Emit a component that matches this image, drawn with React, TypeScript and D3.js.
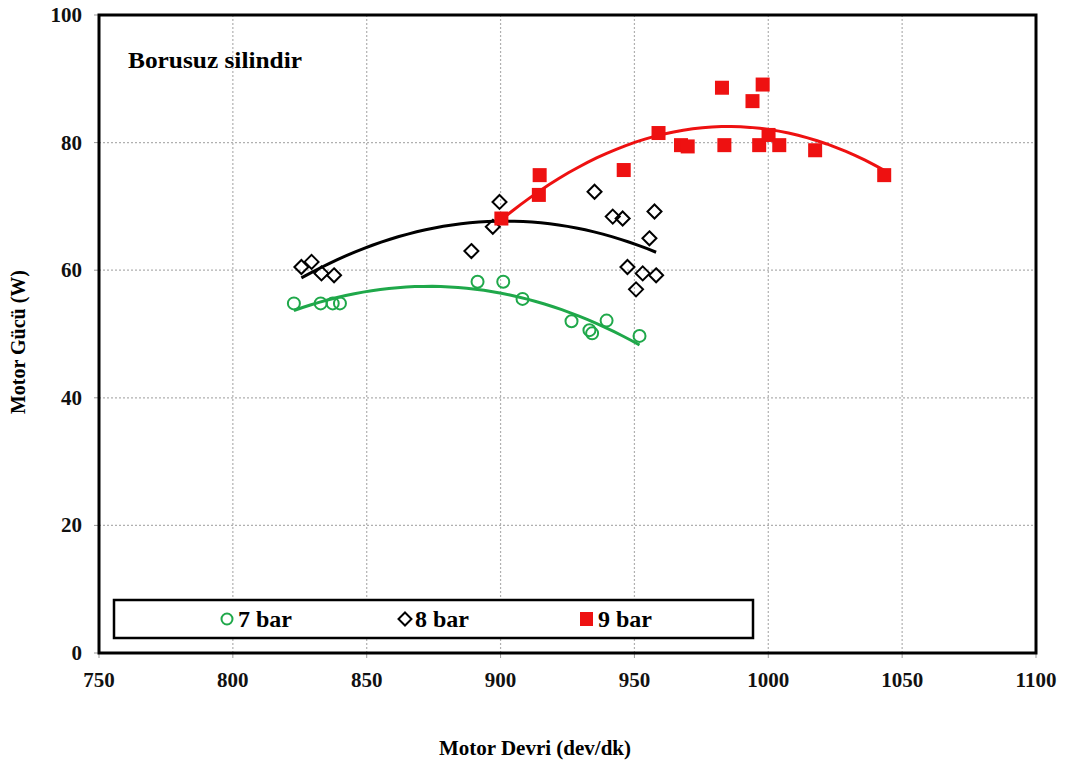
import React from 'react';
import * as d3 from 'd3';

// 7 bar
const rpm7 = [822.8, 832.8, 837.3, 840, 891.4, 901, 908.2, 926.5, 933.2, 934.2, 939.6, 951.9];
const pow7 = [54.8, 54.8, 54.8, 54.8, 58.2, 58.2, 55.5, 52.0, 50.6, 50.1, 52.1, 49.7];
// 8 bar
const rpm8 = [825.6, 829.4, 833.1, 837.8, 889.1, 897.1, 899.6, 935.1, 941.9, 945.6, 957.5, 955.6, 947.4, 953.1, 958.1, 950.6];
const pow8 = [60.5, 61.3, 59.5, 59.2, 63.0, 66.8, 70.7, 72.3, 68.4, 68.1, 69.2, 65.0, 60.5, 59.5, 59.2, 57.0];
// 9 bar
const rpm9 = [900.3, 914.3, 914.6, 946.0, 959.0, 967.4, 969.9, 982.7, 983.6, 994.1, 997.9, 996.6, 1000.1, 1004.1, 1017.5, 1043.3];
const pow9 = [68.1, 71.8, 74.9, 75.7, 81.5, 79.6, 79.4, 88.6, 79.6, 86.5, 89.1, 79.6, 81.2, 79.6, 78.8, 74.9];

const xTicks = [750, 800, 850, 900, 950, 1000, 1050, 1100];
const yTicks = [0, 20, 40, 60, 80, 100];
const seriesNames = ['7 bar', '8 bar', '9 bar'];

const W = 1067;
const H = 769;
const m = { left: 99, right: 1036, top: 15, bottom: 653 };
const font = '"Liberation Serif", "Times New Roman", serif';

// least squares quadratic fit (Excel-style polynomial trendline)
function quadFit(xs: number[], ys: number[]) {
  const n = xs.length;
  const mx = d3.mean(xs) as number;
  const u = xs.map(x => x - mx);
  let s1 = 0, s2 = 0, s3 = 0, s4 = 0, t0 = 0, t1 = 0, t2 = 0;
  u.forEach((v, i) => {
    s1 += v; s2 += v * v; s3 += v ** 3; s4 += v ** 4;
    t0 += ys[i]; t1 += v * ys[i]; t2 += v * v * ys[i];
  });
  const A = [[n, s1, s2], [s1, s2, s3], [s2, s3, s4]];
  const b = [t0, t1, t2];
  const det = (M: number[][]) =>
    M[0][0] * (M[1][1] * M[2][2] - M[1][2] * M[2][1]) -
    M[0][1] * (M[1][0] * M[2][2] - M[1][2] * M[2][0]) +
    M[0][2] * (M[1][0] * M[2][1] - M[1][1] * M[2][0]);
  const D = det(A);
  const c = [0, 1, 2].map(k => det(A.map((row, i) => row.map((v, j) => (j === k ? b[i] : v)))) / D);
  return (x: number) => c[0] + c[1] * (x - mx) + c[2] * (x - mx) ** 2;
}

export default function App() {
  const x = d3.scaleLinear().domain([750, 1100]).range([m.left, m.right]);
  const y = d3.scaleLinear().domain([0, 100]).range([m.bottom, m.top]);
  const line = d3.line<[number, number]>().x(d => x(d[0])).y(d => y(d[1]));

  const trend = (xs: number[], ys: number[]) => {
    const f = quadFit(xs, ys);
    const [a, b] = d3.extent(xs) as [number, number];
    return line(d3.range(0, 41).map(i => {
      const xv = a + ((b - a) * i) / 40;
      return [xv, f(xv)] as [number, number];
    })) as string;
  };

  const green = '#1fa84a';
  const red = '#ee1111';

  const diamond = (cx: number, cy: number, r: number) =>
    `M${cx},${cy - r}L${cx + r},${cy}L${cx},${cy + r}L${cx - r},${cy}Z`;

  return (
    <svg width={W} height={H} style={{ position: 'absolute', left: 0, top: 0, background: '#fff' }} fontFamily={font}>
      <rect width={W} height={H} fill="#fff" />
      {/* grid */}
      <g stroke="#b0b0b0" strokeDasharray="2,2" strokeWidth={1.2}>
        {xTicks.slice(1, -1).map(t => (
          <line key={'gx' + t} x1={x(t)} x2={x(t)} y1={m.top} y2={m.bottom} />
        ))}
        {yTicks.slice(1, -1).map(t => (
          <line key={'gy' + t} x1={m.left} x2={m.right} y1={y(t)} y2={y(t)} />
        ))}
      </g>
      {/* tick marks */}
      <g stroke="#999" strokeWidth={1}>
        {xTicks.map(t => (
          <line key={'tx' + t} x1={x(t)} x2={x(t)} y1={m.bottom} y2={m.bottom + 5} />
        ))}
        {yTicks.map(t => (
          <line key={'ty' + t} x1={m.left - 5} x2={m.left} y1={y(t)} y2={y(t)} />
        ))}
      </g>
      {/* tick labels */}
      <g fontWeight="bold" fontSize={21} fill="#111">
        {xTicks.map(t => (
          <text key={'lx' + t} x={x(t)} y={m.bottom + 34} textAnchor="middle">{t}</text>
        ))}
        {yTicks.map(t => (
          <text key={'ly' + t} x={m.left - 17} y={y(t) + 7} textAnchor="end">{t}</text>
        ))}
      </g>
      {/* axis titles */}
      <text x={535} y={755} textAnchor="middle" fontWeight="bold" fontSize={21}>Motor Devri (dev/dk)</text>
      <text transform={`translate(25,${(m.top + m.bottom) / 2 + 8}) rotate(-90)`} textAnchor="middle" fontWeight="bold" fontSize={20}>
        Motor Gücü (W)
      </text>
      <text x={128} y={68} fontWeight="bold" fontSize={23} textLength={174} lengthAdjust="spacingAndGlyphs">Borusuz silindir</text>

      {/* trend lines */}
      <path d={trend(rpm7, pow7)} fill="none" stroke={green} strokeWidth={3} />
      <path d={trend(rpm8, pow8)} fill="none" stroke="#000" strokeWidth={3} />
      <path d={trend(rpm9, pow9)} fill="none" stroke={red} strokeWidth={3} />

      {/* markers */}
      {rpm7.map((r, i) => (
        <circle key={'c' + i} cx={x(r)} cy={y(pow7[i])} r={6} fill="none" stroke={green} strokeWidth={2} />
      ))}
      {rpm8.map((r, i) => (
        <path key={'d' + i} d={diamond(x(r), y(pow8[i]), 7)} fill="none" stroke="#000" strokeWidth={2} />
      ))}
      {rpm9.map((r, i) => (
        <rect key={'s' + i} x={x(r) - 7} y={y(pow9[i]) - 7} width={14} height={14} fill={red} />
      ))}

      {/* plot frame */}
      <rect x={m.left} y={m.top} width={m.right - m.left} height={m.bottom - m.top} fill="none" stroke="#000" strokeWidth={3} />

      {/* legend */}
      <rect x={114} y={600} width={639} height={38} fill="#fff" stroke="#000" strokeWidth={2.5} />
      <circle cx={227} cy={619} r={5.5} fill="none" stroke={green} strokeWidth={2} />
      <path d={diamond(405, 619, 6.5)} fill="none" stroke="#000" strokeWidth={2} />
      <rect x={580} y={612} width={13} height={14} fill={red} />
      <g fontWeight="bold" fontSize={24}>
        <text x={238} y={627}>{seriesNames[0]}</text>
        <text x={415} y={627}>{seriesNames[1]}</text>
        <text x={598} y={627}>{seriesNames[2]}</text>
      </g>
    </svg>
  );
}
